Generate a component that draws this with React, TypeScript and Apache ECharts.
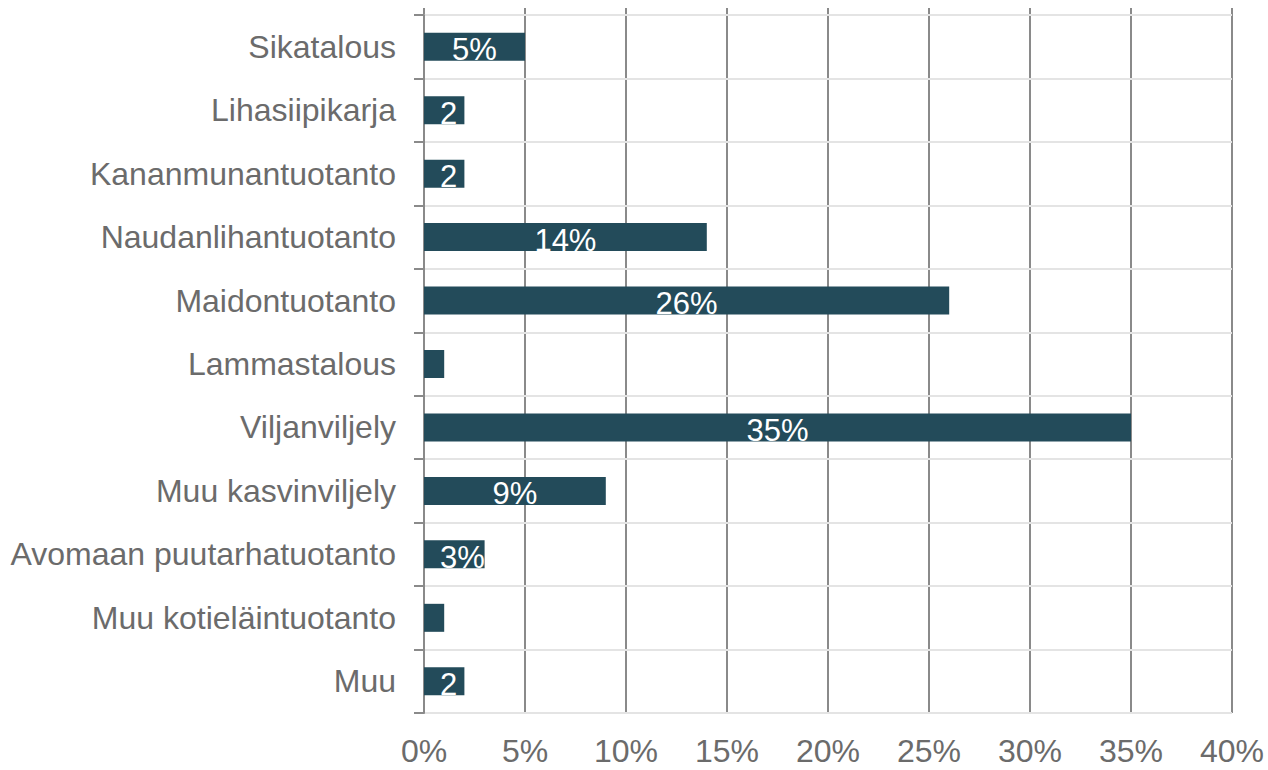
import React, { useEffect, useRef } from "react";
import * as echarts from "echarts";

const categories = [
  "Sikatalous",
  "Lihasiipikarja",
  "Kananmunantuotanto",
  "Naudanlihantuotanto",
  "Maidontuotanto",
  "Lammastalous",
  "Viljanviljely",
  "Muu kasvinviljely",
  "Avomaan puutarhatuotanto",
  "Muu kotieläintuotanto",
  "Muu",
];
const values = [5, 2, 2, 14, 26, 1, 35, 9, 3, 1, 2];
const axisMin = 0;
const axisMax = 40;
const axisStep = 5;

const FONT = "'Liberation Sans', Arial, sans-serif";
const BAR = "#234B5A";
const GRID_DARK = "#8a8a8a";
const GRID_LIGHT = "#e4e4e4";
const TEXT = "#6b6b6b";
const FS = 31;
const AXIS_FS = 32;

export default function App() {
  const ref = useRef<HTMLDivElement>(null);
  useEffect(() => {
    if (!ref.current) return;
    const chart = echarts.init(ref.current, undefined, { renderer: "svg" });
    const base: any = {
      animation: false,
      grid: { left: 424, right: 36, top: 15, bottom: 57, containLabel: false },
      xAxis: [
        {
          type: "value",
          position: "bottom",
          min: axisMin,
          max: axisMax,
          interval: axisStep,
          axisLine: { show: false },
          axisTick: { show: false },
          axisLabel: {
            formatter: "{value}%",
            fontSize: AXIS_FS,
            color: TEXT,
            fontFamily: FONT,
            margin: 22,
          },
          splitLine: { show: true, lineStyle: { color: GRID_DARK, width: 2 } },
        },
        {
          type: "value",
          position: "top",
          min: axisMin,
          max: axisMax,
          interval: axisStep,
          axisLine: { show: true, lineStyle: { color: GRID_DARK, width: 2 } },
          axisTick: { show: true, length: 7, lineStyle: { color: GRID_DARK, width: 2 } },
          axisLabel: { show: false },
          splitLine: { show: false },
        },
      ],
      yAxis: {
        type: "category",
        inverse: true,
        data: categories,
        axisLine: { show: true, lineStyle: { color: GRID_DARK, width: 2 } },
        axisTick: { show: true, length: 10, lineStyle: { color: GRID_DARK, width: 2 } },
        axisLabel: { fontSize: AXIS_FS, color: TEXT, fontFamily: FONT, margin: 28 },
        splitLine: { show: true, lineStyle: { color: GRID_LIGHT, width: 2 } },
        z: 3,
      },
      series: [
        {
          type: "bar",
          data: values,
          barWidth: 28,
          itemStyle: { color: BAR },
          z: 4,
          label: {
            show: true,
            position: "inside",
            formatter: "{c}%",
            color: "#ffffff",
            fontSize: FS,
            fontFamily: FONT,
            offset: [0, 3],
          },
        },
      ],
    };
    chart.setOption(base);

    // second pass: place labels that don't fit, using the axis scale
    const canvas = document.createElement("canvas");
    const ctx = canvas.getContext("2d")!;
    ctx.font = `${FS}px ${FONT}`;
    const x0 = chart.convertToPixel({ xAxisIndex: 0 }, 0) as number;
    const data = values.map((v) => {
      const px = (chart.convertToPixel({ xAxisIndex: 0 }, v) as number) - x0;
      const tw = ctx.measureText(`${v}%`).width;
      if (tw + 20 > px) {
        return {
          value: v,
          label: {
            position: "insideLeft",
            distance: 16,
            width: Math.max(1, px - 12),
            overflow: "truncate",
            ellipsis: "",
          },
        };
      }
      return { value: v };
    });
    chart.setOption({ series: [{ data }] });

    return () => chart.dispose();
  }, []);
  return (
    <div
      ref={ref}
      style={{ position: "absolute", left: 0, top: 0, width: 1268, height: 770, background: "#fff" }}
    />
  );
}
